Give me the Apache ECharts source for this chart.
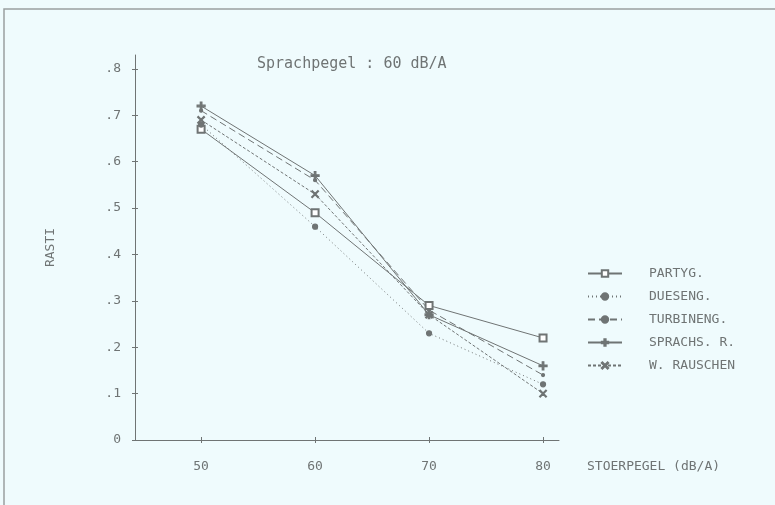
<!DOCTYPE html>
<html>
<head>
<meta charset="utf-8">
<script src="https://cdn.jsdelivr.net/npm/echarts@6/dist/echarts.min.js"></script>
<style>
  html, body { margin: 0; padding: 0; background: #effbfd; }
  #chart { width: 775px; height: 505px; }
</style>
</head>
<body>
<div id="chart"></div>
<script>
// Stoerpegel (dB/A)
var stoerpegel = [50, 60, 70, 80]
var yTicks = [0, 0.1, 0.2, 0.3, 0.4, 0.5, 0.6, 0.7, 0.8]
var seriesNames = ['PARTYG.', 'DUESENG.', 'TURBINENG.', 'SPRACHS. R.', 'W. RAUSCHEN']
var partyg = [0.67, 0.49, 0.29, 0.22]
var dueseng = [0.68, 0.46, 0.23, 0.12]
var turbineng = [0.71, 0.56, 0.28, 0.14]
var sprachs = [0.72, 0.57, 0.27, 0.16]
var rauschen = [0.69, 0.53, 0.27, 0.10]

var grey = '#6f7474'
var font = 'DejaVu Sans Mono'
var plus = 'path://M4,0h2v4h4v2h-4v4h-2v-4h-4v-2h4z'
var cross = 'path://M0,1L1,0L5,4L9,0L10,1L6,5L10,9L9,10L5,6L1,10L0,9L4,5Z'

function pairs (vals) {
  return stoerpegel.map(function (x, i) { return [x, vals[i]] })
}

function mkSeries (name, vals, symbol, size, dash) {
  return {
    name: name,
    type: 'line',
    data: pairs(vals),
    symbol: symbol,
    symbolSize: size,
    lineStyle: { color: grey, width: 1, type: dash },
    itemStyle: { color: grey, borderColor: grey, borderWidth: 1.2 },
    emphasis: { disabled: true },
    animation: false
  }
}

var myChart = echarts.init(document.getElementById('chart'))
myChart.setOption({
  backgroundColor: '#effbfd',
  textStyle: { fontFamily: font },
  title: {
    text: 'Sprachpegel : 60 dB/A',
    left: 252,
    top: 52,
    textStyle: { fontFamily: font, fontSize: 15, fontWeight: 'normal', color: grey }
  },
  graphic: [{
    type: 'rect',
    shape: { x: 4, y: 9, width: 900, height: 700 },
    style: { fill: 'none', stroke: '#9aa0a0', lineWidth: 1.5 },
    silent: true
  }],
  legend: {
    orient: 'vertical',
    left: 582,
    top: 262,
    itemWidth: 34,
    itemHeight: 8,
    itemGap: 10,
    data: seriesNames,
    textStyle: { fontFamily: font, fontSize: 13, color: grey, padding: [0, 0, 0, 22] }
  },
  grid: { left: 135, right: 216, top: 55, bottom: 65 },
  xAxis: [{
    type: 'value',
    min: 44.2,
    max: 81.4,
    name: 'STOERPEGEL (dB/A)',
    nameLocation: 'end',
    nameGap: 28,
    nameTextStyle: { fontFamily: font, fontSize: 13, color: grey, verticalAlign: 'top', padding: [20, 0, 0, 0] },
    axisLine: { lineStyle: { color: grey, width: 1 } },
    axisTick: { customValues: stoerpegel, length: 3, lineStyle: { color: grey } },
    axisLabel: { customValues: stoerpegel, margin: 20, fontFamily: font, fontSize: 13, color: grey },
    splitLine: { show: false }
  }, {
    type: 'value',
    min: 44.2,
    max: 81.4,
    position: 'bottom',
    axisLine: { show: false },
    axisTick: { customValues: stoerpegel, inside: true, length: 3, lineStyle: { color: grey } },
    axisLabel: { show: false },
    splitLine: { show: false }
  }],
  yAxis: [{
    type: 'value',
    min: 0,
    max: 0.83,
    name: 'RASTI',
    nameLocation: 'middle',
    nameGap: 78,
    nameRotate: 90,
    nameTextStyle: { fontFamily: font, fontSize: 13, color: grey },
    axisLine: { show: true, lineStyle: { color: grey, width: 1 } },
    axisTick: { show: true, customValues: yTicks, length: 3, lineStyle: { color: grey } },
    axisLabel: {
      customValues: yTicks,
      margin: 14,
      fontFamily: font,
      fontSize: 13,
      color: grey,
      formatter: function (v) { return v === 0 ? '0' : '.' + Math.round(v * 10) }
    },
    splitLine: { show: false }
  }, {
    type: 'value',
    min: 0,
    max: 0.83,
    position: 'left',
    axisLine: { show: false },
    axisTick: { show: true, customValues: yTicks, inside: true, length: 3, lineStyle: { color: grey } },
    axisLabel: { show: false },
    splitLine: { show: false }
  }],
  series: [
    mkSeries(seriesNames[0], partyg, 'emptyRect', 7, 'solid'),
    mkSeries(seriesNames[1], dueseng, 'circle', 5, [1, 3]),
    mkSeries(seriesNames[2], turbineng, 'circle', 3, [7, 4]),
    mkSeries(seriesNames[3], sprachs, plus, 8, 'solid'),
    mkSeries(seriesNames[4], rauschen, cross, 7, [3, 2])
  ]
})
</script>
</body>
</html>
